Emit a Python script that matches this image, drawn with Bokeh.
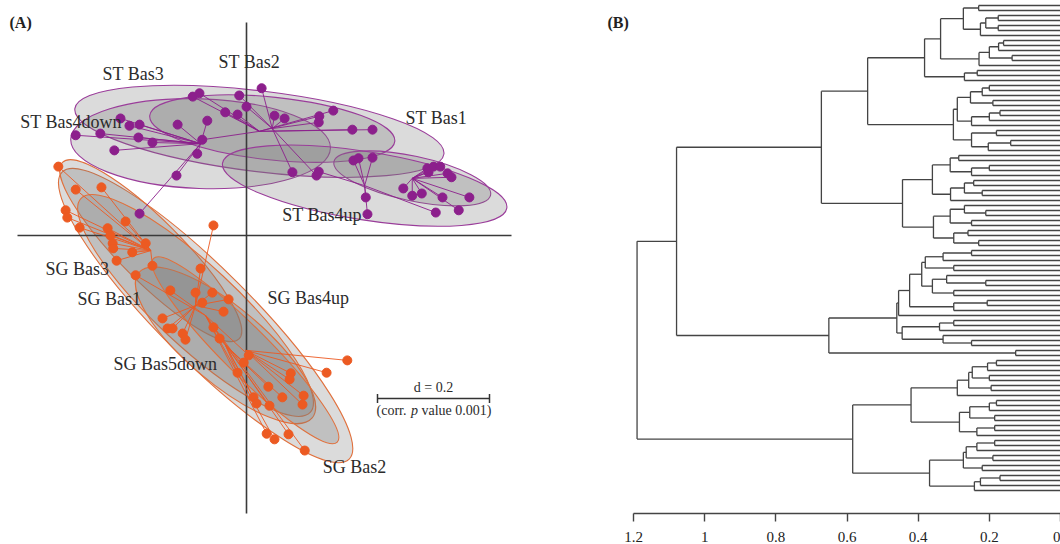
import numpy as np
from bokeh.plotting import figure
from bokeh.layouts import row
from bokeh.models import Range1d, FixedTicker, CustomJSTickFormatter
from bokeh.embed import file_html
from bokeh.resources import INLINE
from bokeh.core.properties import value

# ---------------- Panel A data (ordination coordinates) ----------------
st_groups = ["ST Bas3", "ST Bas4down", "ST Bas2", "ST Bas1", "ST Bas4up"]
st_cx = [0.023, -0.082, 0.046, 0.296, 0.211]
st_cy = [0.186, 0.164, 0.191, 0.102, 0.089]
st_a = [0.332, 0.232, 0.220, 0.143, 0.257]
st_b = [0.072, 0.080, 0.056, 0.040, 0.061]
st_ang = [-7, -2, -6, -12, -9]

st_bas3_pts = [(-0.096, 0.248), (-0.084, 0.254), (-0.038, 0.220), (-0.016, 0.216), (-0.079, 0.171),
               (0.130, 0.213), (0.155, 0.223), (0.189, 0.189), (0.225, 0.189)]
st_bas4down_pts = [(-0.305, 0.179), (-0.261, 0.182), (-0.236, 0.152), (-0.225, 0.209), (-0.209, 0.196),
                   (-0.191, 0.198), (-0.193, 0.175), (-0.168, 0.166), (-0.191, 0.039), (-0.125, 0.107),
                   (-0.123, 0.198), (-0.088, 0.146), (-0.070, 0.205)]
st_bas2_pts = [(-0.013, 0.250), (0.000, 0.230), (0.027, 0.263), (0.050, 0.214), (0.068, 0.209),
               (0.129, 0.202), (0.082, 0.113), (0.125, 0.107)]
st_bas1_pts = [(0.280, 0.084), (0.296, 0.071), (0.313, 0.075), (0.323, 0.120), (0.325, 0.113),
               (0.334, 0.123), (0.359, 0.111), (0.366, 0.104), (0.379, 0.045), (0.398, 0.068),
               (0.350, 0.068), (0.346, 0.123)]
st_bas4up_pts = [(0.213, 0.068), (0.216, 0.038), (0.191, 0.134), (0.200, 0.138), (0.225, 0.139),
                 (0.129, 0.114), (0.338, 0.041)]
st_pts = [st_bas3_pts, st_bas4down_pts, st_bas2_pts, st_bas1_pts, st_bas4up_pts]

sg_groups = ["SG Bas2", "SG Bas3", "SG Bas1", "SG Bas5down", "SG Bas4up"]
sg_cx = [-0.073, -0.171, -0.091, -0.0375, -0.002]
sg_cy = [-0.143, -0.027, -0.125, -0.196, -0.205]
sg_a = [0.3625, 0.223, 0.280, 0.202, 0.232]
sg_b = [0.082, 0.055, 0.072, 0.068, 0.042]
sg_ang = [-45, -45, -43, -40, -45]

sg_bas2_pts = [(0.036, -0.354), (0.050, -0.364), (0.075, -0.355), (0.104, -0.384),
               (-0.198, -0.071), (-0.136, -0.098), (0.004, -0.214)]
sg_bas3_pts = [(-0.336, 0.123), (-0.305, 0.082), (-0.323, 0.045), (-0.320, 0.032), (-0.298, 0.014),
               (-0.259, 0.086), (-0.248, 0.013), (-0.243, 0.000), (-0.239, -0.014), (-0.238, -0.023),
               (-0.232, -0.045), (-0.216, 0.025), (-0.204, -0.030), (-0.180, -0.014), (-0.168, -0.054)]
sg_bas1_pts = [(-0.150, -0.148), (-0.141, -0.166), (-0.132, -0.166), (-0.114, -0.175), (-0.109, -0.186),
               (-0.091, -0.102), (-0.082, -0.059), (-0.059, 0.018), (-0.061, -0.102), (-0.032, -0.114),
               (-0.079, -0.120), (-0.041, -0.136)]
sg_bas5down_pts = [(-0.059, -0.164), (-0.048, -0.184), (-0.016, -0.245), (-0.005, -0.227), (0.0125, -0.289),
                   (0.018, -0.300), (0.041, -0.304), (0.039, -0.270), (0.064, -0.289)]
sg_bas4up_pts = [(0.079, -0.246), (0.077, -0.257), (0.102, -0.286), (0.100, -0.302), (0.143, -0.245),
                 (0.180, -0.223)]
sg_pts = [sg_bas2_pts, sg_bas3_pts, sg_bas1_pts, sg_bas5down_pts, sg_bas4up_pts]

# label anchor positions (left, middle)
lab_text = ["ST Bas2", "ST Bas3", "ST Bas4down", "ST Bas1", "ST Bas4up",
            "SG Bas3", "SG Bas1", "SG Bas4up", "SG Bas5down", "SG Bas2"]
lab_x = [-0.050, -0.257, -0.404, 0.284, 0.064, -0.359, -0.302, 0.0375, -0.2375, 0.136]
lab_y = [0.309, 0.289, 0.202, 0.209, 0.0375, -0.059, -0.114, -0.111, -0.229, -0.414]

scale_d = 0.2

# ---------------- Panel B data (dendrogram merges: [height, left, right]) ----------------
L = 0
c1 = [0.273, [0.230, L, L], [0.225, [0.210, [0.175, L, L], [0.175, L, L]], L]]
c2 = [0.229, [0.200, [0.174, [0.160, L, L], L], [0.136, L, L]], L]
c3 = [0.270, [0.234, L, L], L]
a1a_i = [0.382, [0.337, c1, c2], c3]
a1a_ii = [0.301,
          [0.290, [0.253, [0.22, [0.20, L, L], L], [0.19, L, L]], [0.25, [0.20, [0.17, L, L], L], L]],
          [0.250, [0.18, L, L], [0.203, [0.14, L, L], L]]]
a1a = [0.542, a1a_i, a1a_ii]
a1b_u = [0.360, [0.31, [0.286, L, L], [0.25, [0.20, L, L], L]],
         [0.309, [0.27, [0.244, L, L], [0.22, L, L]], L]]
a1b_l = [0.357, [0.31, [0.27, L, [0.21, L, L]], [0.25, L, L]],
         [0.30, [0.26, L, L], [0.23, L, L]]]
a1b = [0.444, a1b_u, a1b_l]
a1 = [0.672, a1a, a1b]
xu = [0.39, [0.38, [0.33, [0.25, L, L], L], [0.30, L, L]],
      [0.36, [0.32, L, [0.21, L, L]], [0.30, L, L]]]
xl = [0.30, [0.206, L, L], L]
a2_u = [0.46, [0.455, [0.424, xu, xl], L],
        [0.445, [0.34, [0.30, L, L], L], [0.33, L, [0.25, L, L]]]]
a2 = [0.651, a2_u, [0.126, L, L]]
clade_a = [1.079, a1, a2]
bu1 = [0.29, [0.258, [0.248, [0.205, [0.18, L, L], L], [0.20, L, L]], [0.195, L, L]], L]
bu2 = [0.284, [0.255, [0.20, [0.18, L, L], L], [0.185, L, L]], [0.235, [0.185, L, L], L]]
bl1 = [0.273, [0.265, [0.235, [0.185, L, L], L], [0.19, L, L]], [0.22, L, L]]
bl2 = [0.242, [0.225, [0.17, L, L], L], L]
clade_b = [0.584, [0.42, bu1, bu2], [0.368, bl1, bl2]]
tree = [1.19, clade_a, clade_b]

x_ticks = [0, 0.2, 0.4, 0.6, 0.8, 1, 1.2]

# ---------------- styles ----------------
PURPLE = "#8c1f8c"
PURPLE_L = "#9a3d9a"
ORANGE = "#ec5a22"
ORANGE_L = "#e0703c"
SERIF = value("Liberation Serif")
H = 544
BOTTOM = 31            # bottom border used by panel B's axis (frames are aligned in the row)
FRAME_H = H - BOTTOM

# ---------------- Panel A ----------------
sc = 560.0
pA = figure(width=520, height=H, output_backend="svg", toolbar_location=None,
            x_range=Range1d(-246 / sc, (520 - 246) / sc), y_range=Range1d((235 - FRAME_H) / sc, 235 / sc),
            x_axis_location=None, y_axis_location=None, min_border_left=0, min_border_right=0,
            min_border_top=0, min_border_bottom=BOTTOM)
pA.grid.visible = False
pA.outline_line_color = None


def draw_groups(cx, cy, a, b, ang, col_l):
    pA.ellipse(x=cx, y=cy, width=[2 * v for v in a], height=[2 * v for v in b],
               angle=list(np.radians(ang)), fill_color="#7a7a7a", fill_alpha=0.27,
               line_color=col_l, line_width=1.1)


def draw_stars(cx, cy, pts, col):
    x0, y0, x1, y1 = [], [], [], []
    for i, g in enumerate(pts):
        for (x, y) in g:
            x0.append(x); y0.append(y); x1.append(cx[i]); y1.append(cy[i])
    pA.segment(x0=x0, y0=y0, x1=x1, y1=y1, line_color=col, line_width=1.0, line_alpha=0.9)
    pA.scatter(x=x0, y=y0, size=9, fill_color=col, line_color=col)


draw_groups(st_cx, st_cy, st_a, st_b, st_ang, PURPLE_L)
draw_groups(sg_cx, sg_cy, sg_a, sg_b, sg_ang, ORANGE_L)

# axes through origin
pA.segment(x0=[(17 - 246) / sc, 0], y0=[0, (235 - 22) / sc], x1=[(511 - 246) / sc, 0], y1=[0, (235 - 517) / sc],
           line_color="#3a3a3a", line_width=1.6)

draw_stars(st_cx, st_cy, st_pts, PURPLE)
draw_stars(sg_cx, sg_cy, sg_pts, ORANGE)

pA.text(x=lab_x, y=lab_y, text=lab_text, text_font=SERIF, text_font_size="18px",
        text_baseline="middle", text_align="left", text_color="#2b2b2b")

# scale bar
bx0 = (377 - 246) / sc
by = (235 - 398) / sc
tk = 4.5 / sc
pA.segment(x0=[bx0, bx0, bx0 + scale_d], y0=[by, by - tk, by - tk], x1=[bx0 + scale_d, bx0, bx0 + scale_d],
           y1=[by, by + tk, by + tk], line_color="#333333", line_width=1.5)
pA.text(x=[bx0 + scale_d / 2], y=[by + 11 / sc], text=["d = %.1f" % scale_d], text_font=SERIF,
        text_font_size="14px", text_align="center", text_baseline="middle", text_color="#2b2b2b")
pA.text(x=[(376 - 246) / sc, (421 - 246) / sc], y=[by - 12 / sc] * 2, text=["(corr.", "value 0.001)"],
        text_font=SERIF, text_font_size="14px", text_align="left", text_baseline="middle", text_color="#2b2b2b")
pA.text(x=[(410.5 - 246) / sc], y=[by - 12 / sc], text=["p"], text_font=SERIF, text_font_style="italic",
        text_font_size="14px", text_align="left", text_baseline="middle", text_color="#2b2b2b")
pA.text(x=[(9 - 246) / sc], y=[(235 - 22) / sc], text=["(A)"], text_font=SERIF, text_font_style="bold",
        text_font_size="16px", text_align="left", text_baseline="middle", text_color="#222222")

# ---------------- Panel B ----------------
ppu = (1060 - 633) / 1.2
leaf_px = 5.0
pB = figure(width=540, height=H, output_backend="svg", toolbar_location=None,
            x_range=Range1d(1.2 + (633 - 520) / ppu, 0), y_range=Range1d(FRAME_H / leaf_px, 0),
            y_axis_location=None, min_border_left=0, min_border_right=0, min_border_top=0,
            min_border_bottom=BOTTOM)
pB.grid.visible = False
pB.outline_line_color = None

segs = {"x0": [], "y0": [], "x1": [], "y1": []}
counter = [0]


def layout(node):
    if node == L:
        counter[0] += 1
        return float(counter[0]), 0.0
    h, left, right = node
    yl, hl = layout(left)
    yr, hr = layout(right)
    for (a0, b0, a1_, b1) in [(h, yl, h, yr), (h, yl, hl, yl), (h, yr, hr, yr)]:
        segs["x0"].append(a0); segs["y0"].append(b0); segs["x1"].append(a1_); segs["y1"].append(b1)
    return (yl + yr) / 2, h


layout(tree)
pB.segment(x0=segs["x0"], y0=segs["y0"], x1=segs["x1"], y1=segs["y1"], line_color="#444444", line_width=1.3)

ax = pB.xaxis[0]
ax.ticker = FixedTicker(ticks=x_ticks)
ax.bounds = (0, 1.2)
ax.formatter = CustomJSTickFormatter(code="return tick.toFixed(1).replace(/\\.0$/, '');")
ax.minor_tick_line_color = None
ax.major_tick_in = 0
ax.major_tick_out = 8
ax.axis_line_color = "#444444"
ax.axis_line_width = 1.4
ax.major_tick_line_color = "#444444"
ax.major_tick_line_width = 1.4
ax.major_label_text_font = "Liberation Serif"
ax.major_label_text_font_size = "15px"
ax.major_label_text_color = "#222222"
ax.major_label_standoff = 10

pB.text(x=[1.2 + (633 - 520) / ppu - (607 - 520) / ppu], y=[22 / leaf_px], text=["(B)"], text_font=SERIF,
        text_font_style="bold", text_font_size="16px", text_align="left", text_baseline="middle",
        text_color="#222222")

layout_all = row(pA, pB, spacing=0)
open("out.html", "w").write(file_html(layout_all, INLINE))
